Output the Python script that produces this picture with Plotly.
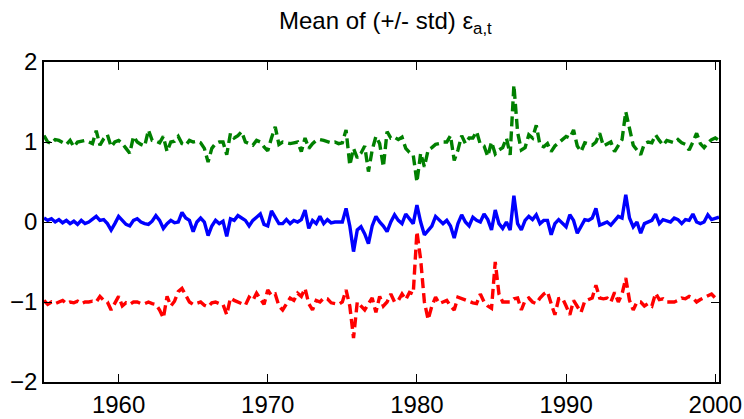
import numpy as np
import plotly.graph_objects as go

start_year = 1955
quarters_per_year = 4

mean_series = [
    0.05, 0.02, 0.04, 0.00,   0.03, -0.01, 0.02, -0.02,   0.01, -0.03, 0.02, -0.02,
    0.00, 0.03, 0.07, 0.02,   0.03, -0.02, -0.10, -0.02,  0.07, 0.02, -0.03, -0.05,
    0.02, 0.04, 0.00, -0.02,  -0.03, 0.01, 0.08, 0.02,    -0.08, -0.02, 0.02, -0.01,
    0.00, 0.12, 0.05, 0.02,   -0.12, 0.00, 0.05, 0.00,    -0.17, -0.05, 0.02, -0.02,
    0.01, -0.18, 0.04, 0.02,  0.08, 0.05, 0.02, -0.05,    0.02, 0.06, 0.10, -0.03,
    -0.05, 0.14, 0.05, -0.02, -0.02, 0.03, -0.02, 0.02,   0.00, 0.03, 0.15, -0.08,
    0.02, -0.02, 0.07, -0.02, 0.03, -0.01, 0.00, 0.00,    0.00, 0.17, -0.05, -0.37,
    -0.10, -0.06, -0.15, -0.27, -0.05, 0.07, 0.00, -0.05, -0.12, 0.00, 0.09, 0.02,
    -0.02, 0.10, 0.04, -0.02, 0.21, 0.00, -0.16, -0.10,   -0.05, 0.07, 0.02, -0.02,
    0.02, -0.05, -0.20, -0.02, 0.09, 0.00, -0.05, 0.06,   0.02, 0.00, 0.10, 0.03,
    -0.10, 0.15, -0.02, -0.08, 0.00, -0.10, 0.33, -0.02,  -0.10, 0.02, 0.07, 0.03,
    0.09, -0.02, 0.02, 0.02,  -0.16, -0.02, 0.03, -0.02,  -0.06, 0.09, 0.02, -0.14,
    -0.05, 0.03, 0.02, 0.05,  0.17, -0.04, -0.02, 0.00,   -0.04, 0.02, 0.07, 0.05,
    0.34, 0.05, -0.06, 0.00,  -0.14, -0.02, 0.00, 0.02,   0.10, -0.02, 0.03, 0.02,
    0.00, 0.05, 0.03, -0.02,  0.03, 0.02, 0.10, 0.00,     -0.02, 0.00, 0.09, 0.03,
    0.04, 0.06,
]

plus_std_series = [
    1.08, 1.00, 0.98, 1.03,  1.02, 1.00, 0.97, 1.02,  0.94, 1.00, 1.01, 1.02,
    1.00, 0.98, 1.14, 0.96,  1.04, 1.09, 0.94, 1.00,  1.02, 0.98, 0.92, 0.86,
    1.07, 1.00, 0.97, 0.95,  1.15, 1.02, 1.01, 0.99,  1.07, 0.88, 1.00, 1.01,
    1.07, 0.98, 0.96, 1.02,  1.00, 1.01, 0.99, 0.92,  0.75, 0.92, 0.98, 1.00,
    1.00, 0.84, 1.11, 1.05,  1.08, 1.13, 1.00, 0.98,  0.96, 1.02, 1.00, 0.94,
    0.89, 1.05, 1.19, 0.97,  1.00, 0.99, 0.98, 0.99,  1.00, 0.88, 1.05, 0.92,
    0.98, 1.02, 1.03, 1.02,  1.01, 0.99, 1.00, 0.98,  0.99, 1.15, 0.71, 0.92,
    0.80, 0.86, 0.95, 0.63,  0.90, 1.07, 0.98, 0.69,  1.13, 1.05, 1.06, 1.03,
    1.06, 0.92, 0.87, 0.84,  0.50, 0.86, 0.69, 0.90,  0.93, 0.97, 0.98, 1.00,
    1.00, 1.08, 0.77, 0.90,  1.08, 0.98, 1.05, 1.05,  1.13, 0.97, 0.95, 0.82,
    1.00, 0.85, 0.90, 0.93,  1.05, 0.84, 1.71, 1.12,  0.90, 0.93, 1.09, 1.05,
    1.21, 0.96, 0.94, 0.98,  0.88, 0.95, 0.99, 1.03,  1.07, 1.05, 1.15, 0.95,
    0.88, 0.99, 0.98, 0.96,  1.00, 1.11, 0.95, 0.98,  1.00, 0.88, 0.95, 1.03,
    1.38, 1.15, 0.96, 0.90,  0.84, 0.98, 1.00, 0.99,  1.09, 1.02, 0.96, 1.02,
    1.01, 0.99, 1.03, 0.99,  0.97, 0.90, 1.00, 1.11,  0.98, 0.93, 0.99, 1.03,
    1.05, 1.02,
]

minus_std_series = [
    -0.98, -1.03, -1.00, -1.02,  -1.00, -0.98, -1.02, -1.00,  -1.01, -0.99, -1.02, -1.00,
    -1.00, -0.99, -1.00, -0.93,  -0.98, -1.00, -1.10, -1.02,  -0.93, -1.05, -1.01, -1.03,
    -1.00, -1.00, -1.02, -1.02,  -1.00, -1.02, -1.03, -1.10,  -1.20, -0.93, -1.05, -0.99,
    -0.87, -0.83, -0.92, -1.00,  -1.03, -1.02, -1.00, -1.04,  -1.06, -1.01, -1.00, -1.02,
    -1.03, -1.16, -0.95, -0.98,  -1.00, -1.02, -1.04, -0.94,  -0.98, -0.89, -0.96, -1.03,
    -0.85, -0.92, -0.90, -1.05,  -1.10, -1.02, -0.95, -0.98,  -0.89, -0.93, -0.83, -1.02,
    -1.10, -0.98, -1.00, -0.95,  -0.96, -1.01, -1.02, -1.03,  -1.00, -0.85, -1.05, -1.45,
    -1.00, -1.05, -1.10, -1.02,  -0.95, -1.13, -0.93, -1.05,  -1.00, -0.90, -1.00, -0.98,
    -0.90, -0.97, -0.88, -0.90,  -0.12, -0.47, -1.00, -1.22,  -1.05, -0.94, -1.02, -1.00,
    -0.98, -1.05, -1.10, -0.94,  -0.96, -0.98, -1.00, -1.01,  -1.02, -0.90, -1.00, -1.05,
    -1.08, -0.50, -0.90, -1.00,  -1.00, -1.00, -0.96, -0.95,  -1.10, -0.98, -0.95, -1.00,
    -1.02, -0.95, -0.90, -0.87,  -1.02, -1.16, -0.96, -0.95,  -1.05, -1.16, -0.98, -1.05,
    -1.13, -0.99, -0.97, -0.95,  -0.79, -0.95, -0.96, -0.95,  -1.00, -0.88, -1.00, -0.90,
    -0.70, -0.98, -1.10, -1.00,  -1.00, -1.05, -1.02, -1.05,  -0.89, -0.97, -0.96, -1.00,
    -1.00, -1.00, -0.98, -0.95,  -0.96, -0.93, -0.95, -1.00,  -0.97, -0.95, -0.92, -0.90,
    -0.95, -0.96,
]

x_ticks = [1960, 1970, 1980, 1990, 2000]
y_ticks = [-2, -1, 0, 1, 2]

years = start_year + np.arange(len(mean_series)) / quarters_per_year

fig = go.Figure()
fig.add_trace(go.Scatter(x=years, y=plus_std_series, mode="lines",
                         line=dict(color="#008000", width=3.4, dash="10px,5px")))
fig.add_trace(go.Scatter(x=years, y=mean_series, mode="lines",
                         line=dict(color="#0000FF", width=3.4)))
fig.add_trace(go.Scatter(x=years, y=minus_std_series, mode="lines",
                         line=dict(color="#FF0000", width=3.4, dash="10px,5px")))

font_family = "Liberation Sans, Arial, sans-serif"
axis_common = dict(showline=True, linecolor="black", linewidth=1.5, mirror="ticks",
                   ticks="inside", ticklen=8, tickwidth=1, tickcolor="black",
                   showgrid=False, zeroline=False, automargin=False,
                   tickfont=dict(family=font_family, size=24, color="black"))

fig.update_layout(
    width=744, height=419,
    margin=dict(l=44, r=25, t=62, b=37),
    paper_bgcolor="white", plot_bgcolor="white",
    showlegend=False,
    title=dict(text="Mean of (+/- std) ε<sub>a,t</sub>", x=0.518, xanchor="center",
               y=0.972, yanchor="top",
               font=dict(family=font_family, size=24, color="black")),
    xaxis=dict(range=[years[0], years[-1]], tickvals=x_ticks, **axis_common),
    yaxis=dict(range=[-2, 2], tickvals=y_ticks, **axis_common),
)

fig.write_html(
    "out.html",
    config={"displayModeBar": False},
    post_script="document.body.style.margin='0';document.body.style.overflow='hidden';",
)
